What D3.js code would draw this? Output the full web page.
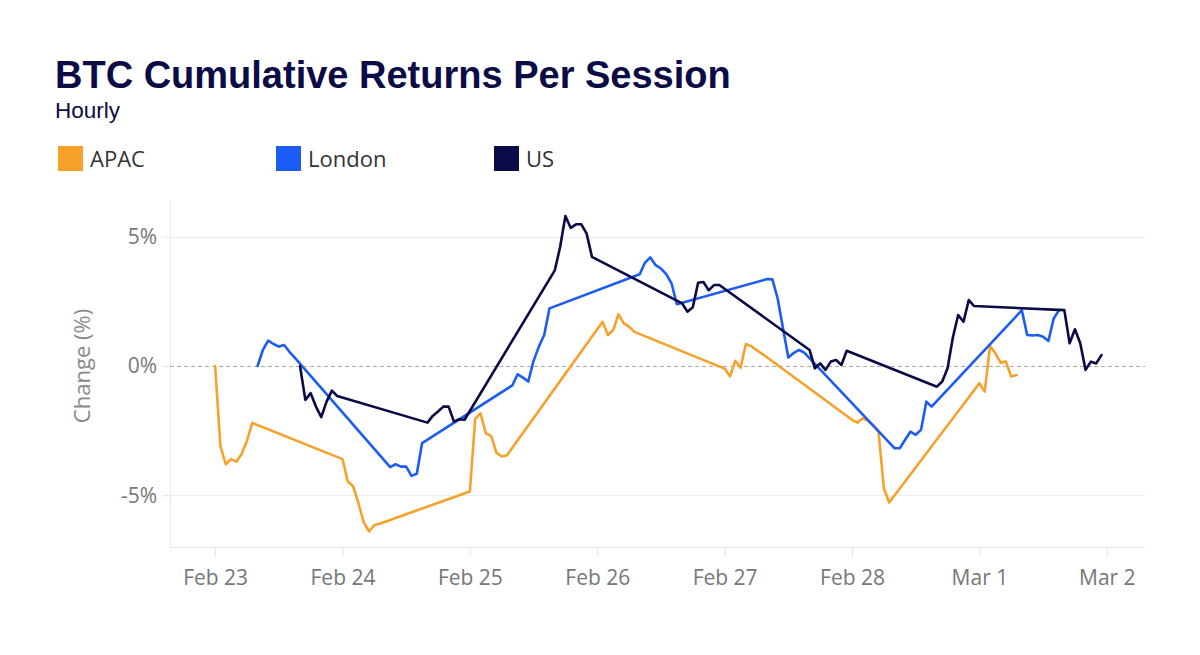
<!DOCTYPE html>
<html>
    <head>
        <title>BTC Cumulative Returns Per Session</title>
        <script src="https://d3js.org/d3.v7.min.js"></script>
        <style>
            body {
                margin: 0;
                background: white;
            }
            .title-text {
                font-family: 'Liberation Sans', Arial, sans-serif;
                font-weight: bold;
                font-size: 38px;
                fill: #0b0b45;
            }
            .sub-text {
                font-family: 'Liberation Sans', Arial, sans-serif;
                font-size: 22.5px;
                fill: #0b0b45;
            }
            .legend-text {
                font-family: 'Open Sans', sans-serif;
                font-size: 22px;
                fill: #333;
            }
            .axis text {
                font-family: 'Open Sans', sans-serif;
                font-size: 21px;
                fill: #777;
            }
            .axis path {
                display: none;
            }
            .axis line {
                stroke: #e2e2e2;
            }
        </style>
    </head>
    <body>
        <svg id='canvas' width=1200 height=655></svg>
        <script>
            // colors
            const apacColor = '#f7a12b'
            const londonColor = '#1c5cf5'
            const usColor = '#0a0a46'

            // one entry per trading day, each session is hourly
            const days = ['2022-02-23', '2022-02-24', '2022-02-25', '2022-02-26', '2022-02-27', '2022-02-28', '2022-03-01']

            // session start hour (UTC)
            const apacStart = 0
            const londonStart = 8
            const usStart = 16

            // cumulative return (%) per hour, one row per day
            const apacValues = [
                [0, -3.1, -3.8, -3.6, -3.7, -3.4, -2.9, -2.2],
                [-3.6, -4.47, -4.65, -5.3, -6.05, -6.4, -6.15, -6.1],
                [-4.85, -2.05, -1.83, -2.6, -2.7, -3.35, -3.5, -3.45],
                [1.42, 1.71, 1.2, 1.39, 2.0, 1.65, 1.52, 1.32],
                [-0.1, -0.4, 0.2, -0.07, 0.85, 0.77, 0.62, 0.48],
                [-2.08, -2.19, -2.02, -2.12, -2.3, -2.54, -4.73, -5.28],
                [-0.67, -0.99, 0.77, 0.49, 0.13, 0.17, -0.41, -0.35]
            ]
            const londonValues = [
                [0, 0.62, 0.98, 0.85, 0.75, 0.81, 0.55, 0.32],
                [-3.68, -3.91, -3.8, -3.89, -3.89, -4.25, -4.17, -2.98],
                [-0.75, -0.32, -0.45, -0.6, 0.2, 0.75, 1.2, 2.23],
                [3.55, 4.0, 4.2, 3.9, 3.77, 3.55, 3.19, 2.39],
                [3.36, 3.35, 2.6, 1.45, 0.33, 0.5, 0.62, 0.52],
                [-3.18, -3.18, -2.85, -2.54, -2.66, -2.47, -1.38, -1.57],
                [2.16, 1.2, 1.18, 1.2, 1.13, 0.97, 1.84, 2.16]
            ]
            const usValues = [
                [0, -1.31, -1.05, -1.57, -1.98, -1.38, -0.95, -1.16],
                [-2.19, -1.93, -1.76, -1.57, -1.57, -2.15, -2.06, -2.08],
                [3.7, 4.6, 5.8, 5.34, 5.48, 5.48, 5.12, 4.22],
                [2.42, 2.1, 2.27, 3.22, 3.25, 2.93, 3.13, 3.13],
                [0.62, -0.09, 0.1, -0.15, 0.17, 0.23, 0.04, 0.59],
                [-0.8, -0.6, -0.09, 1.1, 1.97, 1.71, 2.55, 2.32],
                [2.16, 0.88, 1.42, 0.88, -0.15, 0.17, 0.1, 0.42]
            ]

            // axis ticks
            const yTicks = [-5, 0, 5]
            const xTicks = ['2022-02-23', '2022-02-24', '2022-02-25', '2022-02-26', '2022-02-27', '2022-02-28', '2022-03-01', '2022-03-02']

            const legendItems = [
                { name: 'APAC', color: apacColor },
                { name: 'London', color: londonColor },
                { name: 'US', color: usColor }
            ]

            // plot area
            const plot = { left: 170, right: 1145, top: 200, bottom: 547 }

            const svg = d3.select('#canvas')

            // turns a row-per-day table into {t, v} points
            const toPoints = (rows, startHour) => rows.flatMap((row, i) =>
                row.map((v, j) => ({
                    t: new Date(Date.parse(days[i] + 'T00:00:00Z') + (startHour + j) * 3600000),
                    v
                })))

            const series = [
                { name: 'APAC', color: apacColor, points: toPoints(apacValues, apacStart) },
                { name: 'London', color: londonColor, points: toPoints(londonValues, londonStart) },
                { name: 'US', color: usColor, points: toPoints(usValues, usStart) }
            ]

            const xScale = d3.scaleUtc()
                .domain([new Date('2022-02-22T15:30:00Z'), new Date('2022-03-02T07:12:00Z')])
                .range([plot.left, plot.right])
            const yScale = d3.scaleLinear()
                .domain([-7, 6.42])
                .range([plot.bottom, plot.top])

            // title + subtitle
            svg.append('text').text('BTC Cumulative Returns Per Session')
                .attr('x', 55).attr('y', 88)
                .classed('title-text', true)
            svg.append('text').text('Hourly')
                .attr('x', 55).attr('y', 118)
                .classed('sub-text', true)

            // legend
            const legend = svg.selectAll('.legend')
                .data(legendItems)
                .enter()
                .append('g')
                    .attr('transform', (d, i) => `translate(${58 + i * 218}, 146)`)
            legend.append('rect')
                .attr('width', 25).attr('height', 25)
                .attr('fill', d => d.color)
            legend.append('text').text(d => d.name)
                .attr('x', 32).attr('y', 20.5)
                .classed('legend-text', true)

            // frame and gridlines
            svg.append('line')
                .attr('x1', plot.left + 0.5).attr('x2', plot.left + 0.5)
                .attr('y1', plot.top).attr('y2', plot.bottom)
                .attr('stroke', '#ececec')
            svg.append('line')
                .attr('x1', plot.left).attr('x2', plot.right)
                .attr('y1', plot.bottom + 0.5).attr('y2', plot.bottom + 0.5)
                .attr('stroke', '#e6e6e6')
            svg.selectAll('.grid')
                .data(yTicks.filter(d => d !== 0))
                .enter()
                .append('line')
                    .attr('x1', plot.left).attr('x2', plot.right)
                    .attr('y1', d => Math.round(yScale(d)) + 0.5)
                    .attr('y2', d => Math.round(yScale(d)) + 0.5)
                    .attr('stroke', '#ececec')
            svg.append('line')
                .attr('x1', plot.left).attr('x2', plot.right)
                .attr('y1', Math.round(yScale(0)) + 0.5).attr('y2', Math.round(yScale(0)) + 0.5)
                .attr('stroke', '#aaa')
                .attr('stroke-dasharray', '4,3')

            // axes
            const yAxis = d3.axisLeft(yScale)
                .tickValues(yTicks)
                .tickSize(8)
                .tickPadding(5)
                .tickFormat(d => d + '%')
            svg.append('g')
                .attr('transform', `translate(${plot.left}, 0)`)
                .classed('axis', true)
                .call(yAxis)

            const xAxis = d3.axisBottom(xScale)
                .tickValues(xTicks.map(d => new Date(d + 'T00:00:00Z')))
                .tickSize(9)
                .tickPadding(14)
                .tickFormat(d3.utcFormat('%b %-d'))
            svg.append('g')
                .attr('transform', `translate(0, ${plot.bottom + 0.5})`)
                .classed('axis', true)
                .call(xAxis)

            svg.append('text').text('Change (%)')
                .attr('transform', `translate(90, ${yScale(0)}) rotate(-90)`)
                .attr('text-anchor', 'middle')
                .attr('font-family', "'Open Sans', sans-serif")
                .attr('font-size', 22)
                .attr('fill', '#888')

            // lines, sessions joined straight across the gaps
            const line = d3.line()
                .x(d => xScale(d.t))
                .y(d => yScale(d.v))

            svg.selectAll('.series')
                .data(series)
                .enter()
                .append('path')
                    .attr('d', d => line(d.points))
                    .attr('fill', 'none')
                    .attr('stroke', d => d.color)
                    .attr('stroke-width', 2.6)
                    .attr('stroke-linejoin', 'round')
                    .attr('stroke-linecap', 'round')
        </script>
    </body>
</html>
